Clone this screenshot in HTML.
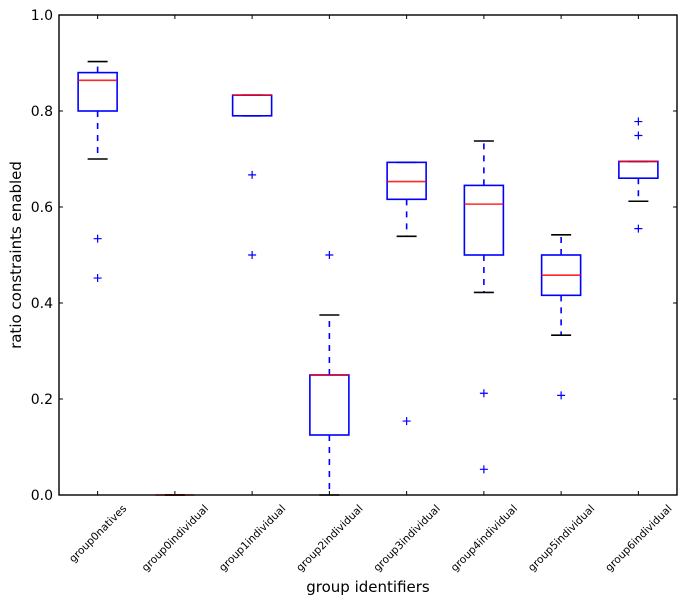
<!DOCTYPE html>
<html><head><meta charset="utf-8"><style>
html,body{margin:0;padding:0;background:#fff;}
svg{display:block;font-family:"DejaVu Sans","Liberation Sans",sans-serif;}
</style></head><body>
<svg id="chart" width="688" height="605" viewBox="0 0 688 605">
<rect x="0" y="0" width="688" height="605" fill="#fff"/>
<g id="ticks"></g>
<g id="boxes"></g>
<rect x="59" y="15" width="618" height="480" fill="none" stroke="#000" stroke-width="1.4"/>
<text x="368" y="592" font-size="15" text-anchor="middle">group identifiers</text>
<text transform="translate(21,255) rotate(-90)" font-size="15" text-anchor="middle">ratio constraints enabled</text>
</svg>
<script>
const categories=["group0natives","group0individual","group1individual","group2individual","group3individual","group4individual","group5individual","group6individual"];
const whiskerLow=[0.70,0,0.79,0,0.539,0.422,0.333,0.612];
const q1=[0.80,0,0.79,0.125,0.616,0.50,0.416,0.66];
const medians=[0.864,0,0.833,0.25,0.653,0.606,0.458,0.695];
const q3=[0.88,0,0.833,0.25,0.693,0.645,0.50,0.695];
const whiskerHigh=[0.903,0,0.833,0.375,0.693,0.7375,0.542,0.695];
const outliers=[[0.534,0.452],[],[0.667,0.5],[0.5],[0.154],[0.212,0.0535],[0.2076],[0.778,0.749,0.555]];
const yTicks=[0,0.2,0.4,0.6,0.8,1.0];
const yTickLabels=["0.0","0.2","0.4","0.6","0.8","1.0"];

const NS="http://www.w3.org/2000/svg";
const L=59,R=677,T=15,B=495;
const xs=i=>L+(R-L)/categories.length*(i+0.5);
const ys=v=>B-(B-T)*v;
function mk(tag,attrs,parent){const e=document.createElementNS(NS,tag);for(const k in attrs)e.setAttribute(k,attrs[k]);parent.appendChild(e);return e;}
const tg=document.getElementById('ticks');
yTicks.forEach((v,i)=>{
  const y=ys(v);
  let a=mk('line',{x1:L,x2:L+4,y1:y,y2:y,stroke:'#000'},tg);
  
  
  let b=mk('line',{x1:R-4,x2:R,y1:y,y2:y,stroke:'#000'},tg);
  
  
  let t=mk('text',{x:L-6,y:y+5,'font-size':14,'text-anchor':'end'},tg);
  t.textContent=yTickLabels[i];
  
  
});
categories.forEach((c,i)=>{
  const x=xs(i);
  let a=mk('line',{x1:x,x2:x,y1:B-4,y2:B,stroke:'#000'},tg);
  
  
  let b=mk('line',{x1:x,x2:x,y1:T,y2:T+4,stroke:'#000'},tg);
  
  
  let t=mk('text',{x:0,y:3.7,'font-size':10.6,'text-anchor':'middle'},tg);
  t.textContent=c;
  
  
  const w=t.getComputedTextLength();
  const h=(w+10)*0.7071;
  t.setAttribute('transform','translate('+x+','+(B+8+h/2)+') rotate(-45)');
});
const bg=document.getElementById('boxes');
const bw=39,cw=20,sw=1.6;
categories.forEach((c,i)=>{
  const x=xs(i);
  const g=mk('g',{},bg);
  
  
  let w1=mk('line',{x1:x,x2:x,y1:ys(q3[i]),y2:ys(whiskerHigh[i]),stroke:'#00f','stroke-width':sw,'stroke-dasharray':'6,6'},g);
  
  
  let w2=mk('line',{x1:x,x2:x,y1:ys(q1[i]),y2:ys(whiskerLow[i]),stroke:'#00f','stroke-width':sw,'stroke-dasharray':'6,6'},g);
  
  
  let c1=mk('line',{x1:x-cw/2,x2:x+cw/2,y1:ys(whiskerHigh[i]),y2:ys(whiskerHigh[i]),stroke:'#000','stroke-width':sw},g);
  
  
  let c2=mk('line',{x1:x-cw/2,x2:x+cw/2,y1:ys(whiskerLow[i]),y2:ys(whiskerLow[i]),stroke:'#000','stroke-width':sw},g);
  
  
  let r=mk('rect',{x:x-bw/2,y:ys(q3[i]),width:bw,height:Math.max(0,ys(q1[i])-ys(q3[i])),fill:'none',stroke:'#00f','stroke-width':sw},g);
  
  
  let m=mk('line',{x1:x-bw/2,x2:x+bw/2,y1:ys(medians[i]),y2:ys(medians[i]),stroke:'#f00','stroke-width':sw,'stroke-opacity':0.85},g);
  
  
  outliers[i].forEach(v=>{
    const y=ys(v);
    let p=mk('path',{d:'M'+(x-4)+','+y+'H'+(x+4)+'M'+x+','+(y-4)+'V'+(y+4),stroke:'#00f','stroke-width':1.2},g);
    
    
  });
});
</script>
</body></html>
